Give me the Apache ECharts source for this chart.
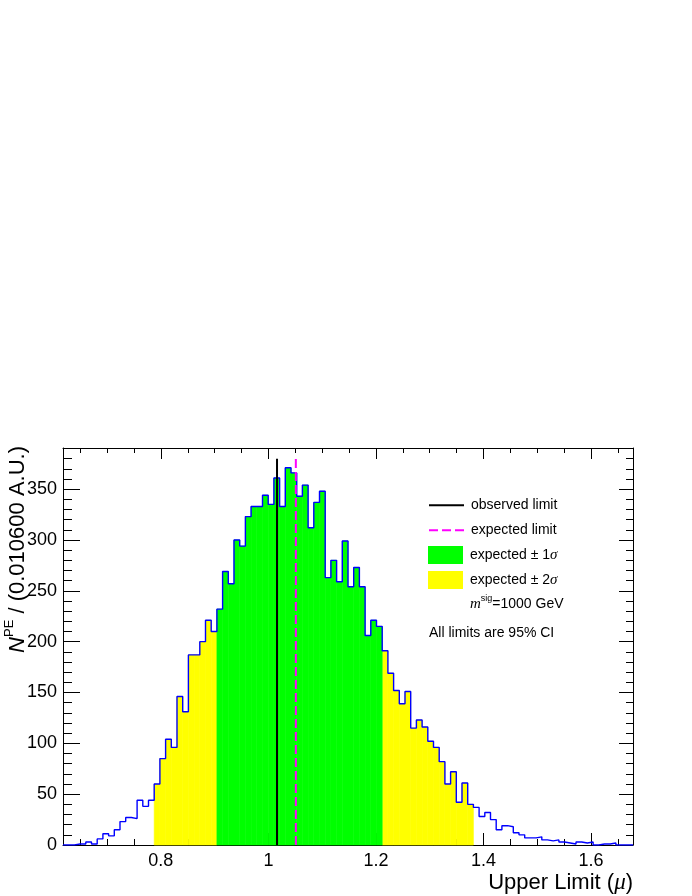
<!DOCTYPE html>
<html><head><meta charset="utf-8">
<script src="https://cdn.jsdelivr.net/npm/echarts@6/dist/echarts.min.js"></script>
<style>html,body{margin:0;padding:0;background:#fff}#c{width:692px;height:896px}</style>
</head><body><div id="c"></div>
<script>
// ---- data ----
const xMin = 0.618;
const binWidth = 0.0106;
const counts = [
  0, 0, 1, 1, 3, 1, 6, 11, 9, 15,
  23, 27, 26, 44, 38, 44, 60, 85, 104, 96,
  146, 131, 187, 187, 200, 221, 210, 232, 269, 257,
  300, 294, 323, 333, 333, 344, 335, 361, 333, 371,
  366, 343, 354, 312, 337, 348, 263, 280, 259, 299,
  254, 273, 254, 206, 221, 215, 191, 169, 152, 139,
  151, 115, 123, 116, 102, 96, 82, 60, 72, 42,
  61, 40, 37, 28, 32, 25, 15, 19, 18, 12,
  10, 7, 7, 8, 5, 4, 5, 3, 2, 1,
  3, 2, 3, 0, 1, 1, 2, 0, 0, 0
];
const observedLimit = 1.016;
const expectedLimit = 1.051;
const limitLineTop = 380;
const band1Sigma = [0.905, 1.212];
const band2Sigma = [0.789, 1.382];
const yMax = 390.5;
const xMajorTicks = [0.8, 1.0, 1.2, 1.4, 1.6];
const xMinorTicks = [0.65, 0.7, 0.75, 0.85, 0.9, 0.95, 1.05, 1.1, 1.15, 1.25, 1.3, 1.35, 1.45, 1.5, 1.55, 1.65];
const yMajorTicks = [0, 50, 100, 150, 200, 250, 300, 350];
const yMinorTicks = [10, 20, 30, 40, 60, 70, 80, 90, 110, 120, 130, 140, 160, 170, 180, 190,
  210, 220, 230, 240, 260, 270, 280, 290, 310, 320, 330, 340, 360, 370, 380, 390];
const legendNames = ['observed limit', 'expected limit', 'expected ± 1σ', 'expected ± 2σ'];

// ---- derived ----
const xMax = xMin + counts.length * binWidth;
const bins = counts.map((v, i) => [xMin + i * binWidth, xMin + (i + 1) * binWidth, v]);
const center = b => (b[0] + b[1]) / 2;
const in1 = b => center(b) > band1Sigma[0] && center(b) < band1Sigma[1];
const in2 = b => center(b) > band2Sigma[0] && center(b) < band2Sigma[1];
const green = bins.filter(in1);
const yellow = bins.filter(b => in2(b) && !in1(b));
const outline = [[xMin, 0]];
bins.forEach(b => { outline.push([b[0], b[2]]); outline.push([b[1], b[2]]); });
outline.push([xMax, 0]);

const FONT = 'Liberation Sans';
function rectRender(color) {
  return function (params, api) {
    const p1 = api.coord([api.value(0), api.value(2)]);
    const p2 = api.coord([api.value(1), 0]);
    return {
      type: 'rect',
      shape: { x: p1[0], y: p1[1], width: p2[0] - p1[0], height: p2[1] - p1[1] },
      style: { fill: color, stroke: color, lineWidth: 0.6 }
    };
  };
}
function xAxisDef(pos, ticks, len, labels, line) {
  return {
    type: 'value', min: xMin, max: xMax, position: pos,
    axisLine: { show: line, onZero: false, lineStyle: { color: '#000', width: 1 } },
    axisTick: { show: true, inside: true, length: len, customValues: ticks, lineStyle: { color: '#000', width: 1 } },
    axisLabel: labels ? {
      show: true, customValues: ticks, margin: 7, color: '#000', fontSize: 18, fontFamily: FONT,
      formatter: v => String(parseFloat(Number(v).toFixed(2)))
    } : { show: false },
    splitLine: { show: false }, minorTick: { show: false }
  };
}
function yAxisDef(pos, ticks, len, labels, line) {
  return {
    type: 'value', min: 0, max: yMax, position: pos,
    axisLine: { show: line, onZero: false, lineStyle: { color: '#000', width: 1 } },
    axisTick: { show: true, inside: true, length: len, customValues: ticks, lineStyle: { color: '#000', width: 1 } },
    axisLabel: labels ? {
      show: true, customValues: ticks, margin: 6, color: '#000', fontSize: 18, fontFamily: FONT
    } : { show: false },
    splitLine: { show: false }, minorTick: { show: false }
  };
}
function legendDef(name, top, extra) {
  return {
    orient: 'vertical', left: 423, top: top, itemWidth: 35, itemHeight: 18,
    selectedMode: false,
    data: [Object.assign({ name: name }, extra)],
    formatter: n => n.replace('σ', '{g|σ}'),
    textStyle: {
      fontSize: 14, fontFamily: FONT, color: '#000', padding: [0, 0, 0, 2],
      rich: { g: { fontSize: 15, fontFamily: 'Liberation Serif', fontStyle: 'italic', color: '#000' } }
    }
  };
}

const chart = echarts.init(document.getElementById('c'), null, { renderer: 'canvas' });
chart.setOption({
  animation: false,
  backgroundColor: '#fff',
  grid: { left: 63, right: 59, top: 448, bottom: 51, containLabel: false, outerBoundsMode: 'none' },
  xAxis: [
    xAxisDef('bottom', xMajorTicks, 12, true, true),
    xAxisDef('bottom', xMinorTicks, 6, false, false),
    xAxisDef('top', xMajorTicks, 11, false, true),
    xAxisDef('top', xMinorTicks, 5, false, false)
  ],
  yAxis: [
    yAxisDef('left', yMajorTicks, 17, true, true),
    yAxisDef('left', yMinorTicks, 9, false, false),
    yAxisDef('right', yMajorTicks, 14, false, true),
    yAxisDef('right', yMinorTicks, 7, false, false)
  ],
  legend: [
    legendDef(legendNames[0], 493, { itemStyle: { opacity: 0 } }),
    legendDef(legendNames[1], 518, { itemStyle: { opacity: 0 } }),
    legendDef(legendNames[2], 541, { icon: 'rect' }),
    legendDef(legendNames[3], 566, { icon: 'rect' })
  ],
  series: [
    {
      name: legendNames[3], type: 'custom', xAxisIndex: 0, yAxisIndex: 0, z: 1,
      itemStyle: { color: '#ffff00' }, renderItem: rectRender('#ffff00'),
      encode: { x: [0, 1], y: 2 }, data: yellow, silent: true
    },
    {
      name: legendNames[2], type: 'custom', xAxisIndex: 0, yAxisIndex: 0, z: 1,
      itemStyle: { color: '#00ff00' }, renderItem: rectRender('#00ff00'),
      encode: { x: [0, 1], y: 2 }, data: green, silent: true
    },
    {
      name: 'pseudo-experiments', type: 'line', xAxisIndex: 0, yAxisIndex: 0, z: 3,
      symbol: 'none', data: outline, silent: true,
      lineStyle: { color: '#0000ff', width: 1.4 }
    },
    {
      name: legendNames[0], type: 'line', xAxisIndex: 0, yAxisIndex: 0, z: 4,
      symbol: 'none', silent: true, data: [[observedLimit, 0], [observedLimit, limitLineTop]],
      itemStyle: { color: '#000' }, lineStyle: { color: '#000', width: 2 }
    },
    {
      name: legendNames[1], type: 'line', xAxisIndex: 0, yAxisIndex: 0, z: 4,
      symbol: 'none', silent: true, data: [[expectedLimit, 0], [expectedLimit, limitLineTop]],
      itemStyle: { color: '#ff00ff' }, lineStyle: { color: '#ff00ff', width: 2, type: [9, 4] }
    }
  ],
  graphic: [
    {
      type: 'text', x: 470, y: 604, silent: true,
      style: {
        text: '{i|m}{s|sig}{t|=1000 GeV}', textVerticalAlign: 'middle', fill: '#000',
        rich: {
          i: { fontSize: 15, fontFamily: 'Liberation Serif', fontStyle: 'italic', lineHeight: 20 },
          s: { fontSize: 9, fontFamily: FONT, verticalAlign: 'top', lineHeight: 11 },
          t: { fontSize: 14, fontFamily: FONT, lineHeight: 20 }
        }
      }
    },
    {
      type: 'text', x: 429, y: 633, silent: true,
      style: { text: 'All limits are 95% CI', font: '14px "Liberation Sans"', fill: '#000', textVerticalAlign: 'middle' }
    },
    {
      type: 'text', x: 633, y: 883, silent: true,
      style: {
        text: 'Upper Limit ({g|μ})', textAlign: 'right', textVerticalAlign: 'middle', fill: '#000',
        font: '22px "Liberation Sans"',
        rich: { g: { fontSize: 23, fontFamily: 'Liberation Serif', fontStyle: 'italic' } }
      }
    },
    {
      type: 'text', x: 18, y: 446, rotation: Math.PI / 2, silent: true,
      style: {
        text: '{i|N}{s|PE}{t| / (0.010600 A.U.)}', textAlign: 'right', textVerticalAlign: 'middle', fill: '#000',
        rich: {
          i: { fontSize: 22, fontFamily: FONT, fontStyle: 'italic', lineHeight: 30 },
          s: { fontSize: 13, fontFamily: FONT, verticalAlign: 'top', lineHeight: 14 },
          t: { fontSize: 22, fontFamily: FONT, lineHeight: 30 }
        }
      }
    }
  ]
});
</script></body></html>
